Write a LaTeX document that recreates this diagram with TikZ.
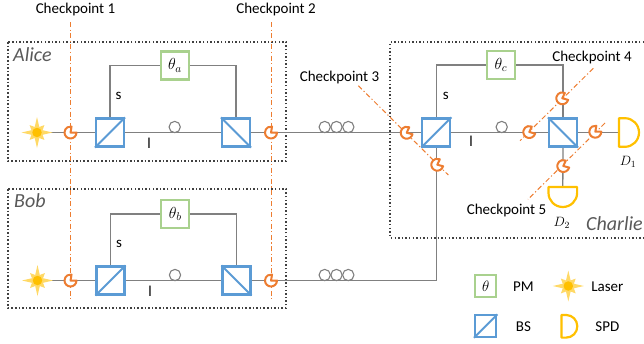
\documentclass[tikz,border=0pt]{standalone}
\usepackage{fix-cm}
\usepackage{fontspec}
\setmainfont{Carlito}
\pgfdeclarelayer{bg}
\pgfsetlayers{bg,main}
\definecolor{bsblue}{HTML}{5B9BD5}
\definecolor{pmgreen}{HTML}{A9D18E}
\definecolor{spdyellow}{HTML}{FFC000}
\definecolor{sunyellow}{HTML}{FFD966}
\definecolor{cporange}{HTML}{ED7D31}
\definecolor{fibergray}{HTML}{808080}
\definecolor{partygray}{HTML}{595959}
\definecolor{boxgray}{HTML}{404040}
\tikzset{
  fiber/.style={draw=fibergray,line width=1.3pt},
  partybox/.style={draw=boxgray,line width=2pt,dash pattern=on 1.5pt off 2.1pt},
  cpline/.style={draw=cporange,line width=1pt,dash pattern=on 5pt off 2.5pt on 1.2pt off 2.5pt},
  bsnode/.style={draw=bsblue,line width=2.2pt,minimum size=28pt,inner sep=0pt,fill=white},
  bslegend/.style={draw=bsblue,line width=2.2pt,minimum size=21.3pt,inner sep=0pt,fill=white},
  pmnode/.style={draw=pmgreen,line width=2.1pt,minimum size=28pt,inner sep=0pt,fill=white,font=\fontsize{16}{16}\selectfont},
  pmlegend/.style={draw=pmgreen,line width=2.1pt,minimum size=21.3pt,inner sep=0pt,fill=white,font=\fontsize{15}{15}\selectfont},
  ringnode/.style={circle,draw=fibergray,line width=1.1pt,minimum size=11.3pt,inner sep=0pt,fill=white},
  suncore/.style={circle,fill=spdyellow,minimum size=9.5pt,inner sep=0pt},
  lab/.style={font=\fontsize{15}{15}\selectfont,inner sep=0pt},
  mathlab/.style={font=\fontsize{13.5}{13.5}\selectfont,inner sep=0pt},
  party/.style={font=\fontsize{20}{20}\selectfont\itshape,text=partygray,inner sep=0pt},
  sunmark/.pic={\fill[sunyellow] (0:15.5)--(22.5:6)--(45:10.5)--(67.5:6)--(90:15.5)--(112.5:6)--(135:10.5)--(157.5:6)--(180:15.5)--(202.5:6)--(225:10.5)--(247.5:6)--(270:15.5)--(292.5:6)--(315:10.5)--(337.5:6)--cycle;},
  cpmark/.pic={\draw[cporange,line width=2pt,fill=white,line join=round] (0,0)--(0:6) arc[radius=6,start angle=0,end angle=280]--cycle;},
  spdmark/.pic={\draw[spdyellow,line width=2.2pt,fill=white,line join=round] (0,-14.3)--(6,-14.3) arc[x radius=14,y radius=14.3,start angle=-90,end angle=90]--(0,14.3)--cycle;},
}
\begin{document}
\begin{tikzpicture}[x=1pt,y=-1pt]
\useasboundingbox (0,0) rectangle (644,343);
% sources, beam splitters, modulators
\pic at (37,132.5) {sunmark};
\node[suncore] (lasa) at (37,132.5) {};
\pic at (37.5,280.5) {sunmark};
\node[suncore] (lasb) at (37.5,280.5) {};
\foreach \n/\x/\y in {bsa1/110/132.5,bsb1/110.5/280.5,bsc1/436.3/132.5}{
  \node[bsnode] (\n) at (\x,\y) {};
  \draw[bsblue,line width=2pt] (\n.south west)--(\n.north east);
}
\foreach \n/\x/\y in {bsa2/236/132.5,bsb2/236.5/280.5,bsc2/563/132.5}{
  \node[bsnode] (\n) at (\x,\y) {};
  \draw[bsblue,line width=2pt] (\n.north west)--(\n.south east);
}
\node[pmnode] (pma) at (175,65.5) {$\theta_a$};
\node[pmnode] (pmb) at (175.3,214) {$\theta_b$};
\node[pmnode] (pmc) at (501,65) {$\theta_c$};
% delay rings and coils
\node[ringnode] (ra) at (174.7,127) {};
\node[ringnode] (rb) at (175,275) {};
\node[ringnode] (rc) at (501.7,127) {};
\foreach \n/\x in {1/324.7,2/336.5,3/348.3}{
  \node[ringnode] (coila\n) at (\x,127) {};
  \node[ringnode] (coilb\n) at (\x,275) {};
}
\coordinate (d1) at (619,132.5);
\coordinate (d2) at (562.8,187);
\coordinate (cpa1) at (70.5,132.5);
\coordinate (cpa2) at (271,132.5);
\coordinate (cpb1) at (70.5,280.5);
\coordinate (cpb2) at (271,280.5);
\coordinate (l1t) at (70.5,22);
\coordinate (l1b) at (70.5,299);
\coordinate (l2t) at (271,22);
\coordinate (l2b) at (271,299);
\coordinate (l3a) at (358.3,85.7);
\coordinate (l3b) at (448.3,175);
\coordinate (l4a) at (593.3,68.3);
\coordinate (l4b) at (520,140.7);
\coordinate (l5a) at (605,123);
\coordinate (l5b) at (528,199.3);
\coordinate (ab1) at (8,42);
\coordinate (ab2) at (286,161);
\coordinate (bb1) at (8,189);
\coordinate (bb2) at (286,308);
\coordinate (cb1) at (644,42);
\coordinate (cb2) at (390.3,42);
\coordinate (cb3) at (390.3,237.7);
\coordinate (cb4) at (644,237.7);
\begin{pgfonlayer}{bg}
\draw[partybox] (ab1) rectangle (ab2);
\draw[partybox] (bb1) rectangle (bb2);
\draw[partybox] (cb1)--(cb2)--(cb3)--(cb4);
\draw[fiber] (lasa)--(bsa1.west);
\draw[fiber] (bsa1.east)--(bsa2.west);
\draw[fiber] (bsa1.north)|-(pma.west);
\draw[fiber] (pma.east)-|(bsa2.north);
\draw[fiber] (bsa2.east)--(bsc1.west);
\draw[fiber] (lasb)--(bsb1.west);
\draw[fiber] (bsb1.east)--(bsb2.west);
\draw[fiber] (bsb1.north)|-(pmb.west);
\draw[fiber] (pmb.east)-|(bsb2.north);
\draw[fiber] (bsb2.east)-|(bsc1.south);
\draw[fiber] (bsc1.east)--(bsc2.west);
\draw[fiber] (bsc1.north)|-(pmc.west);
\draw[fiber] (pmc.east)-|(bsc2.north);
\draw[fiber] (bsc2.east)--(d1);
\draw[fiber] (bsc2.south)--(d2);
\end{pgfonlayer}
\draw[cpline] (l1t)--(l1b);
\draw[cpline] (l2t)--(l2b);
\draw[cpline] (l3a)--(l3b);
\draw[cpline] (l4a)--(l4b);
\draw[cpline] (l5a)--(l5b);
% checkpoint marks
\pic at (cpa1) {cpmark};
\pic at (cpa2) {cpmark};
\pic at (cpb1) {cpmark};
\pic at (cpb2) {cpmark};
\pic[rotate=-15] at (406.7,132.7) {cpmark};
\pic[rotate=-15] at (437.3,164.7) {cpmark};
\pic[rotate=-15] at (529.3,132) {cpmark};
\pic[rotate=-15] at (562.3,98.3) {cpmark};
\pic[rotate=0] at (595.3,131.7) {cpmark};
\pic[rotate=-15] at (563.3,166) {cpmark};
% detectors
\pic at (d1) {spdmark};
\pic[rotate=-90] at (d2) {spdmark};
% labels
\node[lab] (t1) at (75.5,9) {Checkpoint 1};
\node[lab] (t2) at (276,9) {Checkpoint 2};
\node[lab] (t3) at (339.5,77) {Checkpoint 3};
\node[lab] (t4) at (592,57) {Checkpoint 4};
\node[lab] (t5) at (506.5,210) {Checkpoint 5};
\node[party,anchor=west] (alice) at (13,55) {Alice};
\node[party,anchor=west] (bob) at (14,201) {Bob};
\node[party,anchor=east] (charlie) at (643,224) {Charlie};
\node[lab] (sa) at (118.5,96) {s};
\node[lab] (la) at (149,143) {l};
\node[lab] (sb) at (119,244) {s};
\node[lab] (lb) at (150,291) {l};
\node[lab] (sc) at (445.7,96) {s};
\node[lab] (lc) at (471,141) {l};
\node[mathlab] (dd1) at (628,162) {$D_1$};
\node[mathlab] (dd2) at (561.7,223) {$D_2$};
% legend
\node[pmlegend] (legpm) at (485.7,286) {$\theta$};
\node[bslegend] (legbs) at (485.7,326) {};
\draw[bsblue,line width=2pt] (legbs.south west)--(legbs.north east);
\node[lab] (tpm) at (523.3,287) {PM};
\node[lab] (tbs) at (523.5,327) {BS};
\pic at (568.3,286) {sunmark};
\node[suncore] (legsun) at (568.3,286) {};
\node[lab] (tlas) at (607.3,287) {Laser};
\pic[scale=0.79] at (561.5,326.3) {spdmark};
\node[lab] (tspd) at (607.3,327) {SPD};
\end{tikzpicture}
\end{document}
